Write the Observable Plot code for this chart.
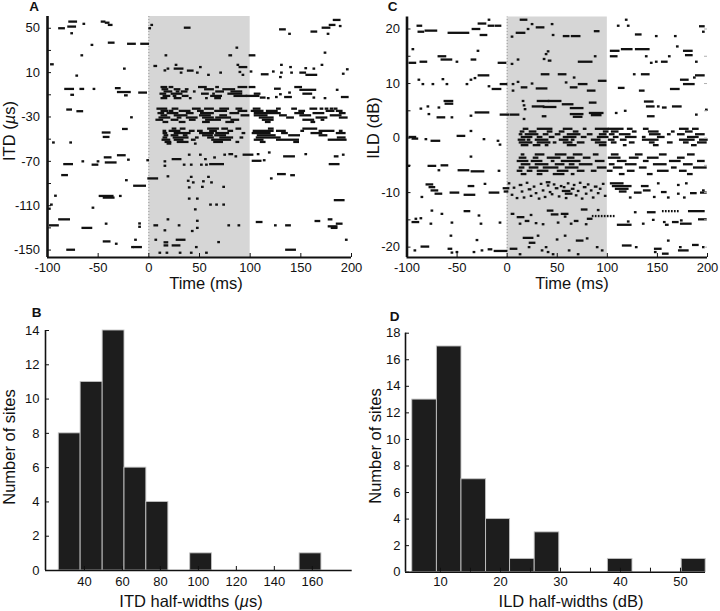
<!DOCTYPE html>
<html><head><meta charset="utf-8">
<script src="https://cdn.jsdelivr.net/npm/d3@7"></script>
<script src="https://cdn.jsdelivr.net/npm/@observablehq/plot@0.6"></script>
<style>
body{margin:0;background:#fff;}
#wrap{position:relative;width:720px;height:611px;font-family:"Liberation Sans",Arial,Helvetica,sans-serif;color:#111;overflow:hidden;background:#fff}
.panel{position:absolute}
.panel svg{overflow:visible}
.t{position:absolute;white-space:nowrap;line-height:1;transform:translate(-50%,-50%)}
.ax{font-size:16.5px}
.rot{transform:translate(-50%,-50%) rotate(-90deg)}
.let{font-size:13.5px;font-weight:bold}
</style></head><body><div id="wrap">
<div class="panel" id="pA" style="left:0;top:0"></div>
<div class="panel" id="pC" style="left:360px;top:0"></div>
<div class="panel" id="pB" style="left:0;top:300px"></div>
<div class="panel" id="pD" style="left:360px;top:300px"></div>
<div class="t let" style="left:34px;top:6.5px">A</div>
<div class="t let" style="left:392.5px;top:6.5px">C</div>
<div class="t let" style="left:36.5px;top:313px">B</div>
<div class="t let" style="left:394.5px;top:316.5px">D</div>
<div class="t ax rot" style="left:9px;top:131px">ITD (<i>µ</i>s)</div>
<div class="t ax" style="left:206px;top:283px">Time (ms)</div>
<div class="t ax rot" style="left:373px;top:128px">ILD (dB)</div>
<div class="t ax" style="left:572px;top:283px">Time (ms)</div>
<div class="t ax rot" style="left:9px;top:447px">Number of sites</div>
<div class="t ax" style="left:191px;top:601px">ITD half-widths (<i>µ</i>s)</div>
<div class="t ax rot" style="left:375px;top:446px">Number of sites</div>
<div class="t ax" style="left:571px;top:601px">ILD half-widths (dB)</div>
</div>
<script>
// ---------- axes / ticks ----------
const timeTicks = [-100, -50, 0, 50, 100, 150, 200];
const stimulus = [0, 100];
const itdTickLabels = [50, 10, -30, -70, -110, -150];
const itdTickMarks = [50, 30, 10, -10, -30, -50, -70, -90, -110, -130, -150];
const ildTickLabels = [20, 10, 0, -10, -20];
const ildTickMarks = [20, 15, 10, 5, 0, -5, -10, -15, -20];

// ---------- Panel A: ITD raster. triples [start ms, end ms, ITD µs] ----------
const itdSpikes50 = [[-89,-84,50],[-80,-73,51.5],[-79,-72,56],[-77,-76,45.5],[-65,-64,54],[-47,-44,56],[-43,-40,55],[-40,-37,53],[0,1,50],[2,3,53],[35,40,50.5],[129,134,49],[138,139,45],[160,165,47],[171,178,50.5],[176,177,45],[178,183,53],[182,188,57.5],[188,189,52],
  [-57,-56,35],[-40,-35,37],[-21,-14,36],[-8,-1,36],[86,87,32.5],[-67,-66,25.6],[16,17,25.6],[79,81,25.6],[99,104,25.6],[173,174,28]];
const itdSpikes10 = [[-97,-95,17.5],[-72,-71,7.3],[-25,-24,13.6],[5,7,16],[15,16,12],[18,19,13.6],[26,27,17],[25,33,13.6],[31,32,10],[38,43,11.8],[47,48,10],[50,51,15],[58,59,8],[70,71,10],[87,88,17],[89,96,15],[89,90,10.6],[92,93,8],[100,101,11],[111,117,8.5],[122,123,11],[130,131,17],[130,131,10],[129,130,6],[139,140,15],[140,141,10],[149,154,10],[154,155,14],[155,165,8],[162,163,13.6],[170,171,17],[191,192,9],[195,196,13]];
const itdSpikesM10 = [[-83,-75,-4.7],[-68,-65,-4.7],[-77,-75,-10],[-55,-54,-4.7],[-33,-29,-4],[-31,-19,-7.5],[-24,-22,-10.5],[-10,-3,-8],[110,114,-12.5],[117,118,-13],[125,126,-12],[124,129,-4.5],[134,140,-12],[138,139,-8],[144,150,-3],[149,164,-5.5],[152,160,-9],[162,163,-12.5],[173,174,-13],[185,186,-5.5],[190,196,-12],[104,109,-9],[129,130,-9.5]];
// rows: [ITD, start, end, start, end, ...]
const itdRowsM10 = [
  [-3, 12,17, 20,23, 49,56, 66,68, 88,96, 99,104],
  [-5, 13,18, 25,30, 36,38, 55,63, 73,84],
  [-7, 15,22, 27,29, 32,37, 44,45, 66,73, 81,91],
  [-9, 11,16, 22,32, 52,58, 63,64, 78,91],
  [-11, 14,20, 24,26, 33,38, 61,71, 84,96, 96,108],
  [-13, 12,17, 25,31, 40,41, 56,57, 65,70]];
const itdSpikesM30 = [[-81,-77,-23.3],[-71,-66,-24.8],[-18,-17,-30.3]];
const itdRowsM30 = [
  [-22.5, 8,17, 23,28, 43,50, 55,63, 70,78, 86,91, 103,109, 126,129, 141,145, 159,165, 169,171, 174,176, 179,181, 183,185],
  [-24.5, 12,18, 20,23, 30,40, 48,53, 65,76, 88,96, 101,112, 116,126, 148,153, 175,182, 185,190],
  [-26.5, 9,14, 18,28, 37,43, 51,63, 80,88, 104,129, 144,152, 162,172, 188,193],
  [-28.5, 12,17, 25,37, 50,60, 70,76, 91,98, 104,116, 129,135, 149,159, 179,189],
  [-30.5, 10,20, 28,31, 37,47, 53,63, 66,80, 109,122, 136,142, 165,175, 188,195],
  [-32.5, 7,13, 22,28, 40,45, 56,70, 81,88, 112,122, 152,162, 170,172],
  [-34.5, 14,18, 30,35, 53,59, 76,83, 115,119, 160,163]];
const itdSpikesM50 = [[-46,-39,-44],[-45,-40,-48],[-26,-22,-40.8],[-95,-94,-53],[-78,-77,-53]];
const itdRowsM50 = [
  [-40.5, 23,26, 31,35, 58,68, 72,77, 86,90, 118,122, 152,165],
  [-42.5, 14,16, 20,30, 40,44, 48,52, 60,66, 78,82, 103,122, 126,134, 150,152, 168,182, 188,190],
  [-44.5, 14,17, 25,40, 50,63, 66,78, 92,94, 102,119, 131,136, 160,170, 185,193],
  [-46.5, 15,18, 22,28, 34,37, 53,62, 65,75, 107,124, 138,148, 168,175],
  [-48.5, 14,17, 24,38, 46,48, 58,63, 70,82, 90,92, 106,129, 186,193],
  [-50.5, 13,20, 25,33, 42,45, 62,80, 104,112, 126,147, 177,194],
  [-52.5, 16,21, 28,38, 64,72, 86,88, 110,114, 143,147],
  [-54, 18,21, 45,46]];
const itdSpikesM70 = [[-84,-76,-72.5],[-66,-65,-70],[-56,-51,-73],[-51,-50,-70],[-44,-38,-66.4],[-43,-33,-71],[-31,-24,-64.5],[-21,-20,-68.5],[-2,-1,-69],[15,16,-70],[15,16,-74],[23,31,-68],[34,35,-73],[39,40,-64],[41,42,-73],[50,51,-64],[51,52,-73],[55,56,-68],[56,57,-73],[60,73,-72.5],[64,65,-66.5],[74,75,-64],[79,82,-63.5],[85,86,-65.5],[93,102,-64],[102,110,-69.5],[107,108,-63.5],[113,114,-69],[118,119,-62],[133,143,-65.5],[154,155,-63.5],[178,187,-72.5],[183,186,-65.5],[191,192,-64]];
const itdSpikesM90 = [[-86,-81,-82.4],[-23,-22,-87],[-15,-4,-92],[-1,8,-85.4],[18,19,-83.5],[38,39,-87.5],[41,42,-84],[43,44,-89],[39,40,-93.5],[52,53,-93],[53,54,-88],[58,59,-84],[61,62,-89],[73,74,-93],[120,121,-85.4],[127,134,-81.5],[140,143,-82.5]];
const itdSpikesM110 = [[-93,-92,-101],[-97,-96,-109],[-100,-98,-112.7],[-56,-55,-111.8],[-49,-36,-101.2],[-45,-35,-102.7],[-29,-28,-101.2],[39,40,-103.6],[47,48,-103.6],[45,46,-113.3],[60,61,-109],[66,67,-109],[73,74,-109],[183,192,-105]];
const itdSpikesM130 = [[-89,-79,-122.3],[-98,-90,-127.7],[-66,-57,-130],[-43,-42,-126.2],[-10,-9,-126],[-10,-9,-129],[5,8,-127.7],[18,19,-122.3],[15,16,-132.2],[29,30,-127.7],[42,43,-132.8],[47,48,-130],[47,48,-123.6],[78,79,-127.7],[88,89,-127.7],[106,111,-124.7],[124,125,-127.7],[135,139,-127.7],[164,168,-123.8],[177,180,-122.3],[177,185,-128.6],[180,185,-130],[185,190,-126.2]];
const itdSpikesM150 = [[-81,-74,-149.7],[-45,-39,-142.2],[-33,-32,-144.3],[-15,-8,-147.3],[-17,-16,-147.3],[-14,-13,-140.7],[6,7,-140.7],[15,18,-143],[15,18,-145.8],[27,35,-140.7],[23,30,-145.8],[10,11,-152.4],[17,18,-152.4],[30,31,-152.4],[41,42,-152.4],[46,47,-147.3],[56,57,-152.4],[68,69,-142.8],[135,144,-149.7],[194,195,-140.7]];

// ---------- Panel C: ILD raster. triples [start ms, end ms, ILD dB] ----------
const ildSpikes20 = [[-90,-86,20.6],[-89,-84,19.5],[-82,-71,19.7],[-59,-39,19.3],[-35,-28,20],[-29,-22,21],[-27,-21,18.9],[-19,-18,21.7],[-19,-14,20.6],[-12,-7,20.6],[13,19,21.7],[4,5,18.6],[9,17,19.3],[20,21,20],[24,25,20.9],[29,36,20.3],[44,45,20.9],[45,46,18.9],[56,61,18.7],[64,72,18.7],[87,91,19.6],[110,111,20.6],[118,119,21.7],[120,121,20.6],[128,133,19],[148,149,18.7],[167,168,18.7],[192,196,20.5],[195,196,19.5]];
const ildSpikes15 = [[-95,-94,16.3],[-98,-92,13.8],[-87,-81,14],[-69,-62,15],[-66,-56,14.4],[-51,-50,14],[-36,-32,14.4],[-30,-29,16],[-9,-2,13.8],[4,5,13.6],[10,11,14.4],[36,37,14.5],[38,39,15.4],[40,41,15.9],[41,43,14.2],[71,84,14],[87,88,15],[103,111,16],[103,109,15],[114,124,16.3],[128,141,16.3],[138,139,15],[143,144,13.8],[148,149,14],[154,159,14],[161,162,15],[169,170,16.8],[176,184,16],[178,184,15.2],[188,189,14]];
const ildSpikes10 = [[-89,-88,10.7],[-85,-84,9.9],[-75,-74,9.9],[-65,-64,10.8],[-61,-60,9.9],[-41,-40,9.9],[-37,-36,10.7],[-33,-32,11],[-29,-19,11.5],[-19,-18,9.5],[-15,-7,9],[-7,-1,9.9],[5,6,9.9],[5,6,8.7],[10,11,10.3],[14,19,9.3],[24,25,10],[29,39,9.1],[34,41,11.7],[51,58,11.7],[58,59,10.2],[66,67,11.1],[63,69,9.3],[71,79,9.9],[80,87,8.7],[91,98,10.5],[111,116,9.2],[126,127,11.7],[134,141,11.7],[132,136,8.7],[163,171,9],[173,180,10.7],[186,187,11.1],[188,196,11.5],[176,186,9.9]];
const ildSpikes5 = [[-87,-86,5.4],[-80,-79,5.8],[-79,-78,4.4],[-70,-63,3.8],[-69,-68,5.6],[-63,-55,6.8],[-62,-55,6.3],[-56,-55,3.8],[-37,-36,4.1],[-32,-19,4.7],[-7,1,4.3],[3,11,4.3],[15,16,6.8],[16,17,6],[17,18,5.3],[16,17,3.5],[25,36,5.8],[30,41,6.8],[35,38,4],[36,48,5.7],[41,53,6.8],[55,65,6.2],[63,75,5.5],[63,75,4.4],[66,74,3.9],[82,88,6.5],[82,95,4.6],[84,93,4.2],[108,109,4.6],[117,118,5],[137,145,6.7],[139,146,5.8],[140,146,4],[150,151,5.8],[155,158,5.6],[165,173,5.8],[188,189,4.3],[198,199,5.2]];
const ildSpikes0 = [[-98,-92,0.2],[-95,-90,-0.1],[-82,-81,-0.2],[-76,-68,-0.5],[-50,-43,0.4],[-37,-36,1.3],[-24,-23,-0.2],[-10,-9,-0.5],[-8,-7,-1.2]];
const ildRows0 = [
  [1.7, 16,20, 30,44, 56,64, 76,78, 88,100, 101,115, 120,124, 136,140, 172,180, 185,190],
  [1.2, 13,16, 22,28, 40,44, 52,56, 66,70, 96,100, 104,110, 125,128, 141,150, 164,166, 178,184],
  [0.7, 12,14, 18,30, 36,40, 48,52, 60,72, 80,84, 92,98, 102,106, 112,122, 142,152, 160,162, 170,176, 188,196],
  [0.2, 14,24, 30,34, 42,46, 56,68, 74,78, 90,100, 106,110, 118,128, 135,137, 150,156, 180,190],
  [-0.3, 11,17, 20,22, 28,40, 52,60, 64,66, 84,92, 101,106, 113,118, 135,150, 172,186, 192,199],
  [-0.8, 12,24, 30,42, 46,48, 56,64, 70,76, 88,98, 104,108, 122,126, 142,146, 160,164, 176,180, 190,198],
  [-1.3, 14,20, 26,32, 38,40, 60,68, 92,98, 116,118, 146,150, 184,188]];
const ildSpikesM5 = [[-99,-98,-5.1],[-79,-72,-5.1],[-69,-68,-5.9],[-66,-60,-5],[-49,-39,-5.9],[-36,-24,-6.1],[-37,-36,-3.4],[-9,-8,-6]];
const ildRowsM5 = [
  [-3, 14,16, 28,36, 48,58, 66,74, 86,90, 104,110, 128,134, 152,158, 180,186],
  [-3.6, 12,18, 26,30, 40,52, 60,66, 76,82, 101,112, 122,130, 140,150, 170,176],
  [-4.2, 10,20, 24,34, 44,46, 54,72, 88,96, 110,118, 136,140, 162,172, 190,196],
  [-4.8, 14,22, 28,40, 48,56, 62,66, 72,84, 102,106, 118,128, 146,158, 176,184],
  [-5.4, 12,16, 22,30, 36,50, 58,70, 90,98, 106,114, 132,138, 164,168, 186,198],
  [-6, 10,14, 20,24, 30,40, 50,60, 70,76, 84,88, 100,104, 120,126, 150,160, 172,178],
  [-6.6, 14,18, 30,34, 46,56, 64,66, 112,116, 140,144, 180,184]];
const ildSpikesM10 = [[-81,-75,-8.5],[-78,-73,-9],[-76,-70,-9.6],[-72,-66,-10.2],[-86,-85,-10.8],[-57,-49,-10],[-43,-33,-10.4],[-39,-34,-8.8],[-23,-22,-8.4],[-18,-9,-10],[-4,1,-9.2],[-3,0,-9.8],[55,62,-9.7],[58,64,-10.2],[103,115,-8.3],[105,123,-8.8],[108,120,-9.3],[112,118,-9.8],[127,133,-10],[134,140,-8.8],[136,142,-9.6],[150,151,-8.3],[154,158,-9.9],[170,171,-8.6],[170,171,-10.2],[178,179,-8.3],[183,188,-10.1],[193,198,-10],[195,196,-9.6],[146,147,-10.8],[160,161,-10.9],[122,123,-10.9],[176,177,-10.9],
  [1,2,-8.3],[4,5,-10.4],[6,7,-9.1],[9,10,-11],[12,14,-8.6],[14,15,-9.8],[16,17,-10.9],[19,20,-8.2],[21,23,-9.4],[23,24,-10.6],[26,27,-8.9],[28,29,-10.1],[31,32,-11.1],[33,34,-8.4],[35,36,-9.6],[37,38,-10.8],[39,42,-8.1],[40,41,-8.7],[42,43,-9.9],[44,45,-10.3],[46,47,-8.5],[48,50,-9.2],[51,52,-10.7],[53,54,-8.8],[56,57,-9],[58,59,-11],[60,61,-8.3],[64,66,-9.3],[66,67,-8.6],[68,69,-10.5],[70,71,-9.7],[72,73,-8.2],[74,75,-11.1],[76,78,-9],[78,79,-10.2],[80,81,-8.5],[83,84,-9.6],[85,86,-10.9],[87,89,-8.9],[90,91,-10.1],[92,93,-9.3],[95,96,-8.4],[97,98,-10.6]];
const ildSpikesM15 = [[-95,-89,-15.4],[-92,-91,-14.8],[-87,-86,-14.7],[-77,-76,-15.7],[-76,-75,-13.3],[-66,-65,-13.9],[-56,-55,-15.5],[-43,-38,-13.4],[-29,-28,-14.2],[-27,-26,-15.7],[-8,-7,-15.5],[4,6,-13.9],[10,16,-14.5],[18,21,-15.2],[12,13,-15.7],[23,24,-14.1],[28,29,-15.6],[40,45,-13.3],[44,50,-14],[54,60,-13.9],[57,58,-14.4],[67,70,-15.2],[74,79,-13.1],[80,84,-14.8],[35,36,-15.8],[50,51,-15.5],[63,64,-15.7],[90,91,-13.2],[78,79,-15.8],[110,123,-15.9],[127,128,-13.6],[140,147,-13.6],[145,146,-15],[156,157,-15.4],[158,160,-15.9],[165,170,-15.4],[173,174,-15.1],[181,196,-13.4],[173,183,-15.7],[191,198,-14.9],[120,121,-15.3],[135,136,-15.7]];
// single-spike rows: [ILD, t, t, ...]
const ildDotsM15 = [[-14.3, 85,88,91,94,97,100,103,106],[-13.4, 155,158,161,164,167,170]];
const ildSpikesM20 = [[-93,-92,-20.6],[-86,-79,-19.9],[-59,-56,-20.3],[-57,-56,-17.9],[-56,-55,-21],[-51,-50,-20.9],[-31,-30,-18.7],[-34,-33,-20.9],[-26,-25,-20.6],[-19,-16,-20.4],[-13,-1,-20.7],[3,9,-20.3],[16,25,-18.3],[22,27,-19.2],[21,22,-20],[30,31,-17.9],[34,35,-20.6],[38,39,-20],[40,41,-20.9],[49,50,-18.6],[57,58,-17.9],[61,62,-20.6],[69,75,-18.8],[79,80,-18.4],[89,90,-20],[94,95,-20.6],[12,13,-21.3],[45,46,-21.3],[70,71,-21.3],[115,123,-19.7],[128,129,-20],[147,153,-20.3],[147,148,-20.9],[171,180,-20.6],[172,173,-20],[195,196,-20],[160,161,-18.8],[185,190,-19.6],[155,160,-21.2]];

// ---------- Panels B and D: histograms ----------
const itdBinLeft  = [26.5, 38.0, 49.6, 61.1, 72.6, 95.7, 153.3];
const itdBinRight = [38.0, 49.6, 61.1, 72.6, 84.2, 107.2, 164.8];
const itdCounts   = [8, 11, 14, 6, 4, 1, 1];
const itdHistTicks = [40, 60, 80, 100, 120, 140, 160];
const itdCountTicks = [0, 2, 4, 6, 8, 10, 12, 14];
const ildBinLeft  = [5.3, 9.4, 13.5, 17.6, 21.6, 25.7, 37.9, 50.2];
const ildBinRight = [9.4, 13.5, 17.6, 21.6, 25.7, 29.8, 42.0, 54.2];
const ildCounts   = [13, 17, 7, 4, 1, 3, 1, 1];
const ildHistTicks = [10, 20, 30, 40, 50];
const ildHistTickMarks = [10, 15, 20, 25, 30, 35, 40, 45, 50];
const ildCountTicks = [0, 2, 4, 6, 8, 10, 12, 14, 16, 18];

// ---------- helpers ----------
const FONT = "'Liberation Sans', Arial, Helvetica, sans-serif";
const spikes = a => a.map(([t1, t2, v]) => ({t1, t2, v}));
const rowSpikes = rows => rows.flatMap(r => { const o = []; for (let i = 1; i + 1 < r.length; i += 2) o.push({t1: r[i], t2: r[i + 1], v: r[0]}); return o; });
const dotSpikes = rows => rows.flatMap(r => r.slice(1).map(t => ({t1: t, t2: t, v: r[0]})));

function raster(el, {data, yDomain, tickLabels, tickMarks, m, rightTicks, labelDx}) {
  const width = 360, height = 290;
  const [y0, y1] = yDomain;
  const uy = (y1 - y0) / (height - m.top - m.bottom);
  const ux = 300 / (width - m.left - m.right);
  const marks = [
    Plot.rect([stimulus], {x1: d => d[0], x2: d => d[1], y1: y0, y2: y1, fill: "#d6d6d6"}),
    Plot.ruleX([0], {y1: y0, y2: y1, stroke: "#8a8a8a", strokeWidth: 0.8, strokeDasharray: "1,2"}),
    Plot.ruleY(data, {y: "v", x1: "t1", x2: d => d.t2 + 1.7 * ux, stroke: "#111", strokeWidth: 2.3}),
    Plot.ruleX([-100], {y1: y0, y2: y1, stroke: "#111", strokeWidth: 2.6}),
    Plot.ruleY([y0], {x1: -100, x2: 200, stroke: "#111", strokeWidth: 2}),
    Plot.ruleX(timeTicks, {x: d => d, y1: y0, y2: y0 + 4 * uy, stroke: "#111"}),
    Plot.ruleY(tickMarks, {y: d => d, x1: -100, x2: -100 + 4 * ux, stroke: "#111"}),
    Plot.text(timeTicks, {x: d => d, y: y0, text: d => String(d), dy: 5, lineAnchor: "top", fontSize: 13}),
    Plot.text(tickLabels, {x: -100, y: d => d, text: d => String(d), textAnchor: "end", dx: labelDx, fontSize: 13})
  ];
  if (rightTicks) marks.push(Plot.ruleY(tickMarks, {y: d => d, x1: 200 - 3 * ux, x2: 200, stroke: "#b0b0b0"}));
  const chart = Plot.plot({
    width, height, marginLeft: m.left, marginRight: m.right, marginTop: m.top, marginBottom: m.bottom,
    x: {domain: [-100, 200], axis: null},
    y: {domain: yDomain, axis: null},
    style: {fontFamily: FONT, fontSize: "13px", color: "#111", background: "transparent"},
    marks
  });
  document.getElementById(el).appendChild(chart);
}

function histogram(el, {left, right, counts, xDomain, yDomain, xTicks, xTickMarks, yTicks, m, dy, dx}) {
  const width = 360, height = 311;
  const [x0, x1] = xDomain, [yb, yt] = yDomain;
  const uy = (yt - yb) / (height - m.top - m.bottom);
  const ux = (x1 - x0) / (width - m.left - m.right);
  const bins = counts.map((c, i) => ({a: left[i], b: right[i], c}));
  const chart = Plot.plot({
    width, height, marginLeft: m.left, marginRight: m.right, marginTop: m.top, marginBottom: m.bottom,
    x: {domain: xDomain, axis: null},
    y: {domain: yDomain, axis: null},
    style: {fontFamily: FONT, fontSize: "13px", color: "#111", background: "transparent"},
    marks: [
      Plot.rect(bins, {x1: "a", x2: "b", y1: 0, y2: "c", fill: "#1d1d1d", stroke: "#c4c4c4", strokeWidth: 0.9}),
      Plot.ruleX([x0], {y1: yb, y2: yt, stroke: "#111", strokeWidth: 1.6}),
      Plot.ruleY([yb], {x1: x0, x2: x1, stroke: "#111", strokeWidth: 1.6}),
      Plot.ruleX(xTickMarks, {x: d => d, y1: yb, y2: yb + 4 * uy, stroke: "#111"}),
      Plot.ruleY(yTicks, {y: d => d, x1: x0, x2: x0 + 4 * ux, stroke: "#111"}),
      Plot.text(xTicks, {x: d => d, y: yb, text: d => String(d), dy, lineAnchor: "top", fontSize: 13}),
      Plot.text(yTicks, {x: x0, y: d => d, text: d => String(d), textAnchor: "end", dx, fontSize: 13})
    ]
  });
  document.getElementById(el).appendChild(chart);
}

// ---------- draw ----------
const itdData = [
  ...spikes(itdSpikes50), ...spikes(itdSpikes10), ...spikes(itdSpikesM10), ...rowSpikes(itdRowsM10),
  ...spikes(itdSpikesM30), ...rowSpikes(itdRowsM30), ...spikes(itdSpikesM50), ...rowSpikes(itdRowsM50),
  ...spikes(itdSpikesM70), ...spikes(itdSpikesM90), ...spikes(itdSpikesM110), ...spikes(itdSpikesM130), ...spikes(itdSpikesM150)];
raster("pA", {data: itdData, yDomain: [-156.7, 60.6], tickLabels: itdTickLabels, tickMarks: itdTickMarks,
  m: {left: 47, right: 9, top: 16, bottom: 33}, rightTicks: false, labelDx: -7.5});

const ildData = [
  ...spikes(ildSpikes20), ...spikes(ildSpikes15), ...spikes(ildSpikes10), ...spikes(ildSpikes5),
  ...spikes(ildSpikes0), ...rowSpikes(ildRows0), ...spikes(ildSpikesM5), ...rowSpikes(ildRowsM5),
  ...spikes(ildSpikesM10), ...spikes(ildSpikesM15), ...dotSpikes(ildDotsM15), ...spikes(ildSpikesM20)];
raster("pC", {data: ildData, yDomain: [-21.9, 22.2], tickLabels: ildTickLabels, tickMarks: ildTickMarks,
  m: {left: 46.5, right: 13, top: 16.5, bottom: 33}, rightTicks: true, labelDx: -7});

histogram("pB", {left: itdBinLeft, right: itdBinRight, counts: itdCounts, xDomain: [19.5, 181], yDomain: [0, 14],
  xTicks: itdHistTicks, xTickMarks: itdHistTicks, yTicks: itdCountTicks,
  m: {left: 45, right: 8.3, top: 30, bottom: 41}, dy: 6, dx: -6});
histogram("pD", {left: ildBinLeft, right: ildBinRight, counts: ildCounts, xDomain: [4.17, 54.17], yDomain: [0, 18],
  xTicks: ildHistTicks, xTickMarks: ildHistTickMarks, yTicks: ildCountTicks,
  m: {left: 45, right: 15, top: 32.7, bottom: 39.3}, dy: 5, dx: -5});
</script>
</body></html>
